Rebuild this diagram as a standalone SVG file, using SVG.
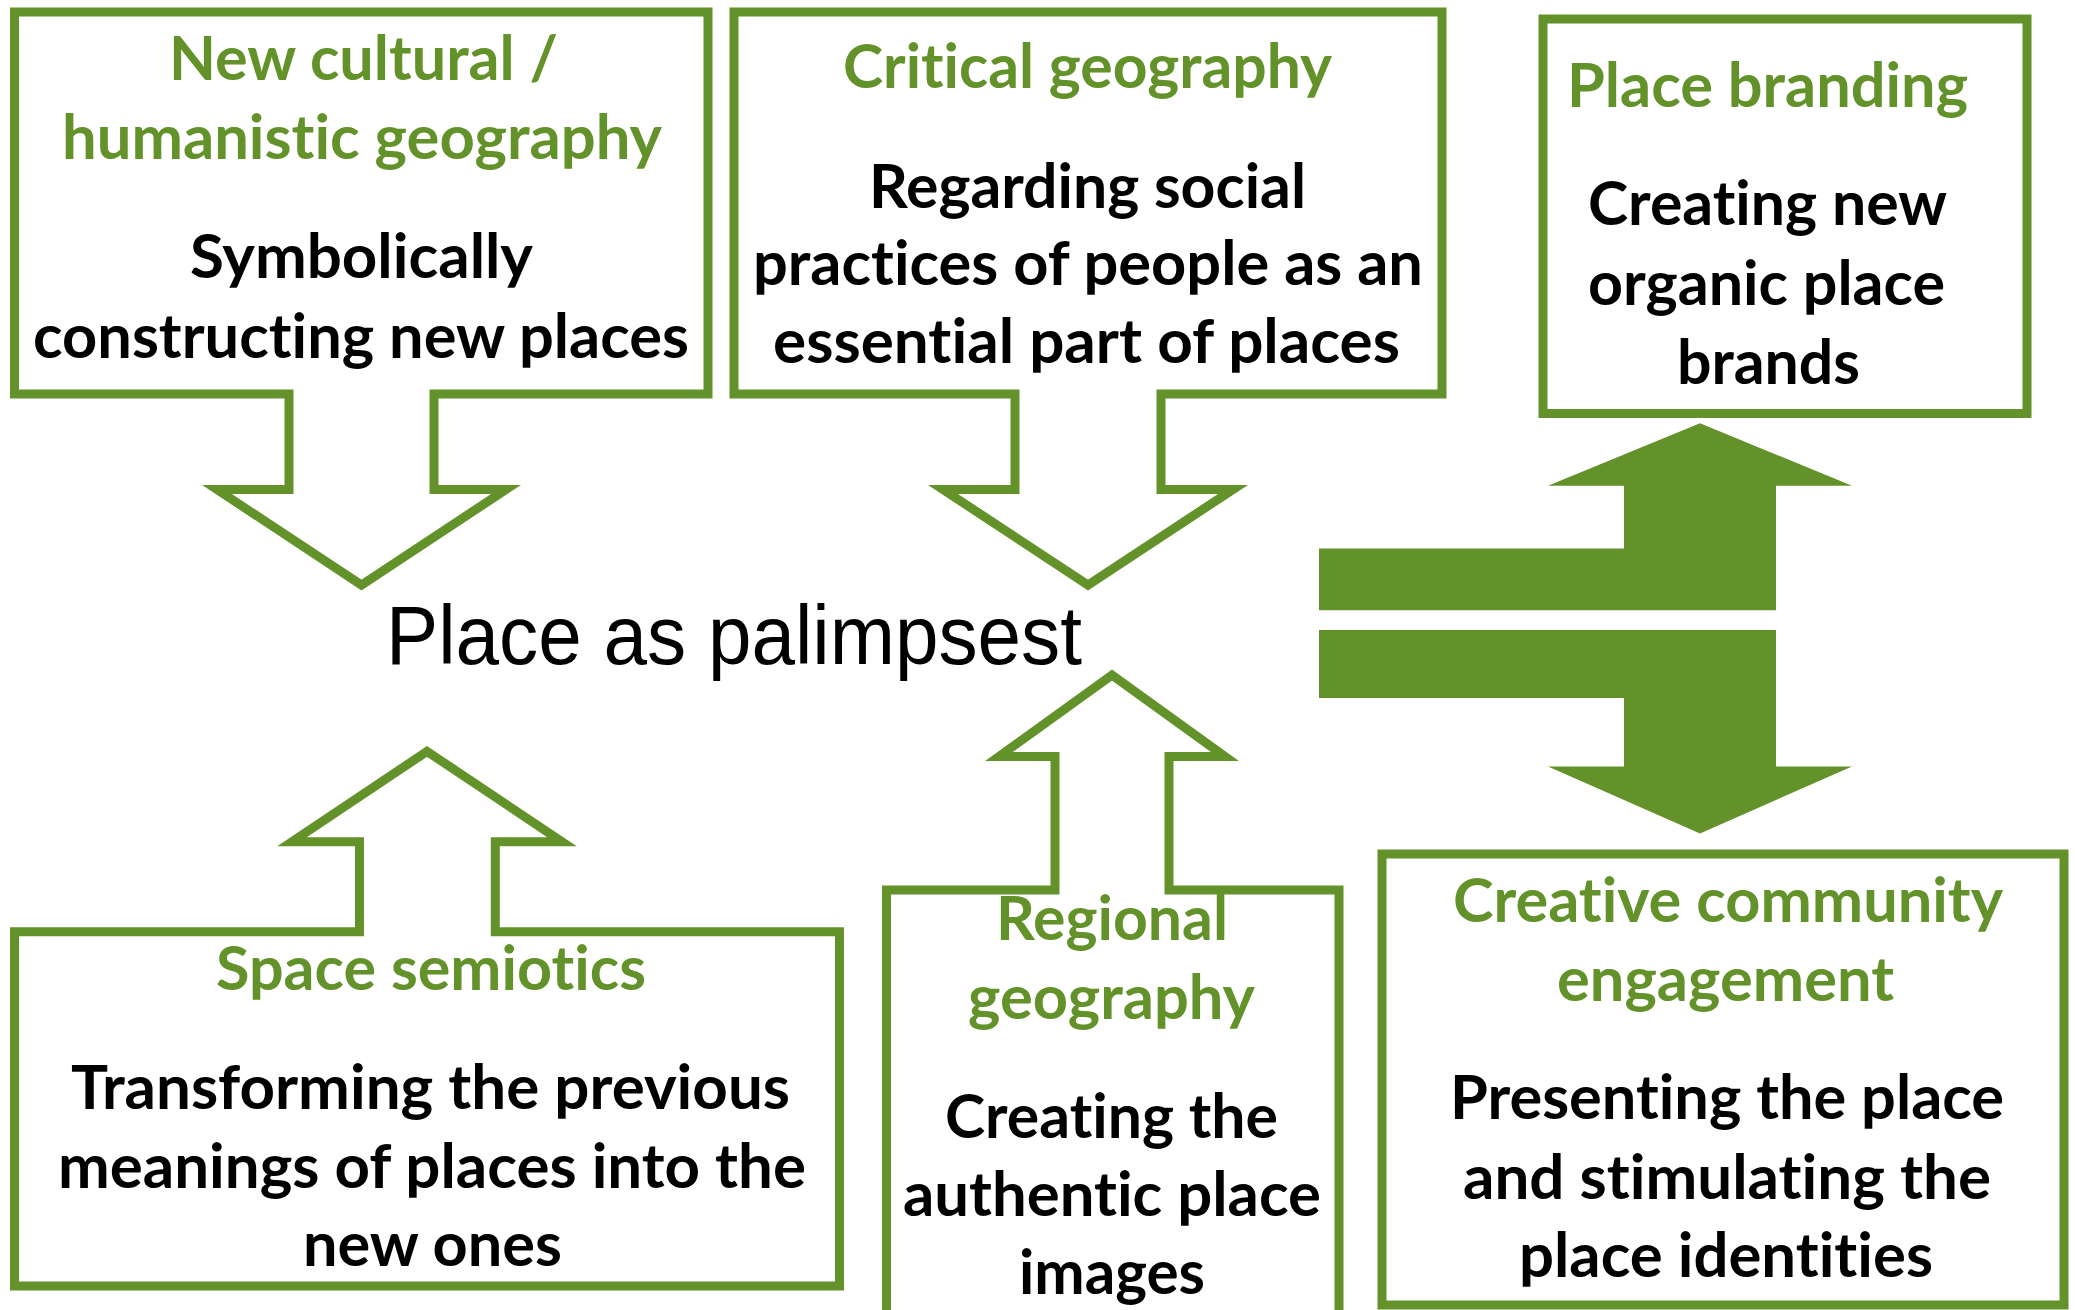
<svg xmlns="http://www.w3.org/2000/svg" width="2075" height="1310" viewBox="0 0 2075 1310">
  <style>
    .box { fill: #ffffff; stroke: #63922A; stroke-width: 9; stroke-linejoin: miter; stroke-miterlimit: 6; }
    .solid { fill: #63922A; stroke: none; }
    .t { font-family: Lato, "Open Sans", "Liberation Sans", sans-serif; font-weight: 700; font-size: 61px; font-variant-ligatures: none; font-feature-settings: "liga" 0, "clig" 0, "dlig" 0; }
    .ttl { fill: #63922A; }
    .body { fill: #000000; }
    .centre { font-family: "Liberation Sans", Arial, sans-serif; font-weight: 400; font-size: 84px; fill: #000000; }
  </style>
  <rect width="2075" height="1310" fill="#ffffff"/>

  <!-- solid two-way connectors on the right -->
  <g id="connectors">
    <path class="solid" d="M1319,548.5 H1624 V485.7 H1548 L1700,423.3 L1852,485.7 H1776 V610.3 H1319 Z"/>
    <path class="solid" d="M1319,630 H1776 V766.4 H1852 L1700,833.6 L1548,766.4 H1624 V698 H1319 Z"/>
  </g>

  <g id="new-cultural">
    <path class="box" d="M14.5,12 H708 V394 H434 V489.5 H506 L361.5,585 L217,489.5 H289 V394 H14.5 Z"/>
    <text class="t ttl" x="169" y="80" textLength="389" lengthAdjust="spacingAndGlyphs">New cultural /</text>
    <text class="t ttl" x="62" y="159" textLength="600" lengthAdjust="spacingAndGlyphs">humanistic geography</text>
    <text class="t body" x="190" y="278" textLength="343" lengthAdjust="spacingAndGlyphs">Symbolically</text>
    <text class="t body" x="33" y="358" textLength="656" lengthAdjust="spacingAndGlyphs">constructing new places</text>
  </g>

  <g id="critical-geography">
    <path class="box" d="M734,12 H1442 V394 H1161 V489.5 H1233 L1088,585 L943,489.5 H1015 V394 H734 Z"/>
    <text class="t ttl" x="843" y="88" textLength="489" lengthAdjust="spacingAndGlyphs">Critical geography</text>
    <text class="t body" x="869" y="208" textLength="437" lengthAdjust="spacingAndGlyphs">Regarding social</text>
    <text class="t body" x="753" y="285" textLength="670" lengthAdjust="spacingAndGlyphs">practices of people as an</text>
    <text class="t body" x="773" y="363" textLength="627" lengthAdjust="spacingAndGlyphs">essential part of places</text>
  </g>

  <g id="place-branding">
    <rect class="box" x="1543" y="19" width="484" height="394.5"/>
    <text class="t ttl" x="1567" y="107" textLength="401" lengthAdjust="spacingAndGlyphs">Place branding</text>
    <text class="t body" x="1588" y="225" textLength="359" lengthAdjust="spacingAndGlyphs">Creating new</text>
    <text class="t body" x="1588" y="305" textLength="357" lengthAdjust="spacingAndGlyphs">organic place</text>
    <text class="t body" x="1677" y="384" textLength="183" lengthAdjust="spacingAndGlyphs">brands</text>
  </g>

  <g id="palimpsest">
    <text class="centre" x="386" y="664" textLength="696" lengthAdjust="spacingAndGlyphs">Place as palimpsest</text>
  </g>

  <g id="space-semiotics">
    <path class="box" d="M14.5,931.7 H359.5 V841.7 H292 L427,751.4 L562,841.7 H495.3 V931.7 H839.5 V1286 H14.5 Z"/>
    <text class="t ttl" x="216" y="990" textLength="430" lengthAdjust="spacingAndGlyphs">Space semiotics</text>
    <text class="t body" x="71" y="1109" textLength="719" lengthAdjust="spacingAndGlyphs">Transforming the previous</text>
    <text class="t body" x="58" y="1188" textLength="748" lengthAdjust="spacingAndGlyphs">meanings of places into the</text>
    <text class="t body" x="303" y="1266" textLength="259" lengthAdjust="spacingAndGlyphs">new ones</text>
  </g>

  <g id="regional-geography">
    <path class="box" d="M886.5,1330 V890 H1055 V756.5 H999 L1112,675 L1225,756.5 H1169 V890 H1339 V1330 Z"/>
    <text class="t ttl" x="996" y="940" textLength="232" lengthAdjust="spacingAndGlyphs">Regional</text>
    <text class="t ttl" x="968" y="1019" textLength="287" lengthAdjust="spacingAndGlyphs">geography</text>
    <text class="t body" x="945" y="1138" textLength="333" lengthAdjust="spacingAndGlyphs">Creating the</text>
    <text class="t body" x="903" y="1216" textLength="418" lengthAdjust="spacingAndGlyphs">authentic place</text>
    <text class="t body" x="1019" y="1294" textLength="186" lengthAdjust="spacingAndGlyphs">images</text>
  </g>

  <g id="creative-community">
    <rect class="box" x="1382" y="854" width="682" height="451"/>
    <text class="t ttl" x="1453" y="922" textLength="550" lengthAdjust="spacingAndGlyphs">Creative community</text>
    <text class="t ttl" x="1557" y="1001" textLength="337" lengthAdjust="spacingAndGlyphs">engagement</text>
    <text class="t body" x="1450" y="1119" textLength="554" lengthAdjust="spacingAndGlyphs">Presenting the place</text>
    <text class="t body" x="1463" y="1199" textLength="528" lengthAdjust="spacingAndGlyphs">and stimulating the</text>
    <text class="t body" x="1519" y="1277" textLength="414" lengthAdjust="spacingAndGlyphs">place identities</text>
  </g>
</svg>
